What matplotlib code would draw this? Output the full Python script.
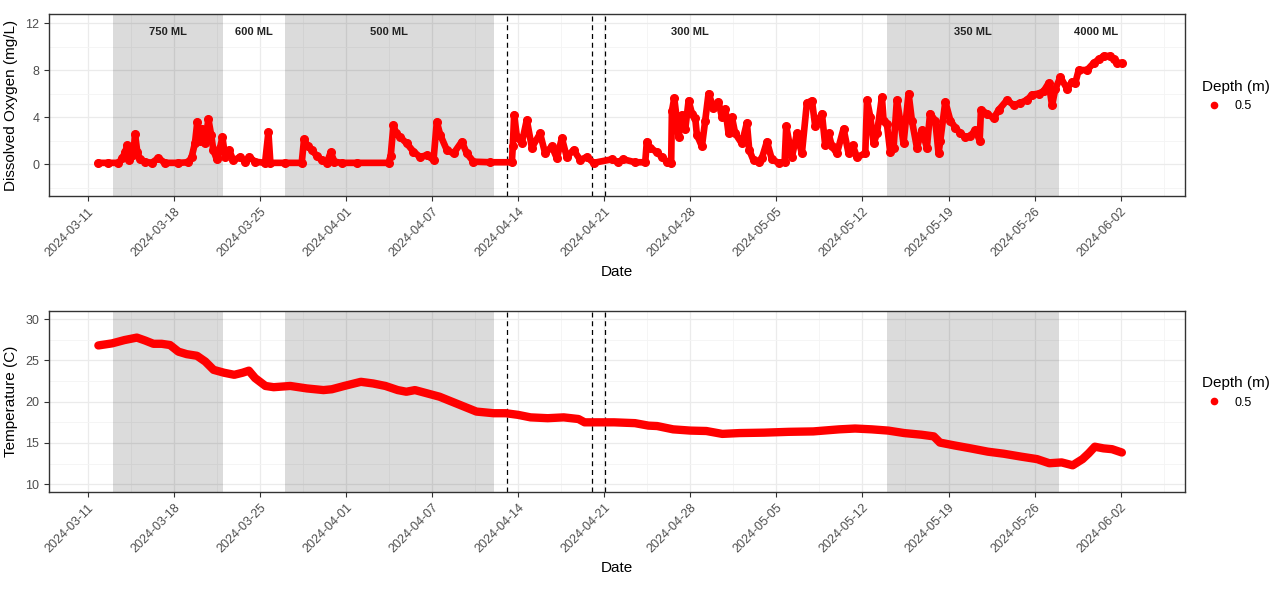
import matplotlib
matplotlib.use('Agg')
import matplotlib.pyplot as plt
import matplotlib.dates as mdates
from matplotlib.ticker import FixedLocator
import pandas as pd

plt.rcParams['font.family'] = ['Liberation Sans', 'DejaVu Sans']

START = pd.Timestamp('2024-03-11')

# Step 1 : values (days after START)
do_days = [0.85, 1.66, 2.48, 2.8, 3.02, 3.21, 3.37, 3.7, 3.83, 4.02, 4.24, 4.65, 5.19, 5.73,
           6.27, 7.36, 8.17, 8.44, 8.71, 8.9, 9.12, 9.31, 9.53, 9.8, 10.02, 10.2, 10.48,
           10.75, 10.94, 11.16, 11.48, 11.83, 12.38, 12.78, 13.11, 13.6, 14.41, 14.68, 14.84,
           16.04, 17.39, 17.58, 17.88, 18.21, 18.61, 19.02, 19.43, 19.75, 20.05, 20.65,
           21.87, 24.45, 24.63, 24.85, 25.07, 25.39, 25.94, 26.48, 27.02, 27.56, 28.11,
           28.38, 28.65, 29.19, 29.74, 30.41, 30.82, 31.36, 32.72, 34.48, 34.56, 34.67,
           34.89, 35.29, 35.7, 36.11, 36.78, 37.19, 37.73, 38.14, 38.55, 38.95, 39.5, 40.04,
           40.58, 41.13, 42.62, 43.1, 43.56, 44.5, 45.33, 45.46, 45.73, 46.28, 46.68, 47.09,
           47.44, 47.5, 47.69, 47.9, 48.04, 48.31, 48.59, 48.86, 49.13, 49.4, 49.53, 49.94,
           50.21, 50.48, 50.88, 51.29, 51.57, 51.84, 52.11, 52.38, 52.65, 53.19, 53.6, 53.79,
           54.14, 54.55, 54.82, 55.23, 55.63, 56.18, 56.67, 56.8, 57.26, 57.67, 58.07, 58.48,
           58.89, 59.16, 59.7, 59.97, 60.24, 60.52, 60.92, 61.46, 61.87, 62.2, 62.55, 63.23,
           63.37, 63.64, 63.91, 64.18, 64.58, 64.72, 64.99, 65.26, 65.53, 65.8, 66.07, 66.34,
           66.75, 67.02, 67.43, 67.83, 68.24, 68.5, 68.92, 69.19, 69.33, 69.74, 70.15, 70.55,
           70.96, 71.37, 71.78, 72.18, 72.53, 72.64, 73.13, 73.67, 74.08, 74.76, 75.3, 75.84,
           76.38, 76.79, 77.33, 77.74, 78.15, 78.42, 78.69, 79.1, 79.64, 80.04, 80.31, 80.59,
           81.27, 81.81, 82.21, 82.62, 83.16, 83.43, 83.7, 84.11]
do_vals = [0.1, 0.1, 0.1, 0.5, 1.0, 1.6, 0.3, 0.8, 2.55, 1.0, 0.4, 0.2, 0.1, 0.5,
           0.1, 0.1, 0.15, 0.6, 1.8, 3.6, 2.0, 3.0, 1.8, 3.8, 2.5, 1.2, 0.4,
           1.4, 2.3, 0.6, 1.2, 0.3, 0.6, 0.2, 0.6, 0.2, 0.1, 2.7, 0.1,
           0.1, 0.1, 2.1, 1.5, 1.2, 0.7, 0.3, 0.1, 1.0, 0.2, 0.1,
           0.1, 0.1, 0.7, 3.3, 2.6, 2.3, 1.75, 1.05, 0.6, 0.75, 0.35,
           3.6, 2.5, 1.2, 0.9, 1.9, 0.9, 0.2, 0.15, 0.15, 1.5, 4.2,
           2.3, 1.8, 3.75, 1.4, 2.6, 0.9, 1.5, 0.5, 2.2, 0.6, 1.2, 0.35,
           0.6, 0.1, 0.4, 0.15, 0.4, 0.15, 0.15, 1.9, 1.4, 1.0, 0.6, 0.2,
           0.1, 4.5, 5.6, 3.8, 2.3, 4.2, 3.0, 5.4, 4.3, 3.9, 2.5, 1.5,
           3.7, 6.0, 4.8, 5.3, 4.0, 4.7, 2.6, 4.0, 2.6, 1.75, 3.5, 1.2,
           0.3, 0.2, 0.5, 1.9, 0.4, 0.1, 0.2, 3.2, 0.6, 2.6, 0.9, 5.2,
           5.4, 3.2, 4.3, 1.6, 2.6, 1.5, 0.9, 3.0, 0.9, 1.6, 0.6, 0.9,
           5.45, 4.0, 1.75, 2.6, 5.7, 3.7, 3.4, 1.0, 1.4, 5.45, 3.7, 1.75,
           6.0, 3.7, 1.4, 2.9, 1.4, 4.3, 3.7, 0.9, 2.0, 5.3, 3.7, 3.1,
           2.6, 2.3, 2.4, 2.9, 2.0, 4.6, 4.3, 3.9, 4.6, 5.45, 5.0, 5.2,
           5.45, 5.9, 6.0, 6.2, 6.9, 5.0, 6.4, 7.4, 6.4, 7.0, 6.9, 8.0,
           8.0, 8.6, 8.9, 9.2, 9.2, 8.9, 8.6, 8.6]

temp_days = [0.85, 1.96, 2.97, 3.98, 4.65, 5.33, 6.0, 6.68, 7.36, 8.03, 8.87, 9.55, 10.22,
             11.07, 11.9, 12.58, 13.09, 13.6, 14.44, 15.11, 16.46, 17.81, 19.16, 19.84,
             20.85, 22.2, 23.2, 24.2, 25.2, 25.9, 26.6, 27.6, 28.6, 29.6, 30.6, 31.6, 33.0,
             34.0, 35.0, 36.0, 37.4, 38.7, 39.9, 40.4, 41.4, 42.8, 44.5, 45.6, 46.3, 47.6,
             49.0, 50.3, 51.6, 53.0, 55.0, 57.0, 59.0, 61.1, 62.4, 63.75, 65.1, 66.4, 67.8,
             68.8, 69.3, 70.5, 71.8, 73.2, 74.5, 75.9, 77.2, 78.2, 79.2, 80.1, 80.9, 81.4,
             81.9, 82.6, 83.3, 84.1]
temp_vals = [26.8, 27.05, 27.45, 27.75, 27.4, 27.0, 27.0, 26.85, 26.05, 25.75, 25.55, 24.85,
             23.85, 23.5, 23.25, 23.5, 23.75, 22.85, 21.9, 21.75, 21.9, 21.6, 21.4, 21.5,
             21.9, 22.4, 22.2, 21.9, 21.4, 21.2, 21.4, 21.0, 20.6, 20.0, 19.4, 18.8, 18.6,
             18.6, 18.4, 18.1, 18.0, 18.1, 17.9, 17.5, 17.5, 17.5, 17.4, 17.1, 17.05, 16.65,
             16.5, 16.45, 16.1, 16.2, 16.25, 16.35, 16.4, 16.65, 16.75, 16.65, 16.5, 16.2, 16.0,
             15.8, 15.05, 14.7, 14.35, 13.95, 13.7, 13.35, 13.05, 12.55, 12.65, 12.3, 13.05,
             13.75, 14.55, 14.35, 14.25, 13.85]

# treatment periods (days after START) and their labels
period_edges = [2, 11, 16, 33, 65, 79, 85]
period_labels = ['750 ML', '600 ML', '500 ML', '300 ML', '350 ML', '4000 ML']
shaded = [0, 2, 4]  # which periods get the grey band
event_days = [34.07, 41.04, 42.08]

tick_labels = ['2024-03-11', '2024-03-18', '2024-03-25', '2024-04-01', '2024-04-07',
               '2024-04-14', '2024-04-21', '2024-04-28', '2024-05-05', '2024-05-12',
               '2024-05-19', '2024-05-26', '2024-06-02']


def to_date(days):
    return START + pd.to_timedelta(pd.Series(days, dtype=float), unit='D')


do_t = to_date(do_days)
temp_t = to_date(temp_days)
edges = to_date(period_edges)
events = to_date(event_days)
ticks = pd.date_range(START, periods=len(tick_labels), freq='7D')
minor_ticks = ticks - pd.Timedelta(hours=84)
minor_ticks = minor_ticks.append(pd.DatetimeIndex([ticks[-1] + pd.Timedelta(hours=84)]))

fig = plt.figure(figsize=(12.88, 5.91), dpi=100)
ax1 = fig.add_axes([0.038, 0.6684, 0.8817, 0.3079])
ax2 = fig.add_axes([0.038, 0.1675, 0.8817, 0.3063])


def style(ax, ylabel, yticks, yminor, ylim):
    ax.set_xlim(START - pd.Timedelta(days=3.17), START + pd.Timedelta(days=89.2))
    ax.set_ylim(*ylim)
    ax.set_xticks(ticks)
    ax.set_xticklabels(tick_labels, rotation=45, ha='right', rotation_mode='anchor',
                       fontsize=9, color='#4D4D4D')
    ax.xaxis.set_minor_locator(FixedLocator(mdates.date2num(minor_ticks)))
    ax.set_yticks(yticks)
    ax.yaxis.set_minor_locator(FixedLocator(yminor))
    ax.tick_params(axis='y', labelsize=9, labelcolor='#4D4D4D')
    ax.tick_params(which='major', length=3.5, color='#333333', width=0.8)
    ax.tick_params(which='minor', length=0)
    ax.grid(which='major', color='#EBEBEB', linewidth=0.9, zorder=0)
    ax.grid(which='minor', color='#F4F4F4', linewidth=0.6, zorder=0)
    ax.set_axisbelow(True)
    for s in ax.spines.values():
        s.set_color('#333333')
        s.set_linewidth(1.0)
    ax.set_xlabel('Date', fontsize=11, labelpad=4)
    ax.set_ylabel(ylabel, fontsize=11, labelpad=5)
    for i in shaded:
        ax.axvspan(edges[i], edges[i + 1], color='black', alpha=0.14, lw=0, zorder=1)
    for e in events:
        ax.axvline(e, color='black', linestyle=(0, (4, 3)), linewidth=0.9, zorder=2)


style(ax1, 'Dissolved Oxygen (mg/L)', [0, 4, 8, 12], [-2, 2, 6, 10], (-2.72, 12.77))
style(ax2, 'Temperature (C)', [10, 15, 20, 25, 30], [12.5, 17.5, 22.5, 27.5], (9.07, 30.97))

ax1.plot(do_t, do_vals, color='red', lw=4.8, marker='o', ms=5.5,
         solid_joinstyle='round', solid_capstyle='round', zorder=3)
ax2.plot(temp_t, temp_vals, color='red', lw=6, solid_capstyle='round',
         solid_joinstyle='round', zorder=3)

for i, lab in enumerate(period_labels):
    mid = edges[i] + (edges[i + 1] - edges[i]) / 2
    ax1.text(mid, 11.2, lab, ha='center', va='center', fontsize=8, color='#222222',
             family=['Liberation Sans Narrow', 'Liberation Sans', 'DejaVu Sans'],
             fontweight='bold')

for ax in (ax1, ax2):
    leg = ax.legend([plt.Line2D([], [], color='red', ls='', marker='o', ms=4.5)], ['0.5'],
                    title='Depth (m)', loc='center left', bbox_to_anchor=(1.005, 0.55),
                    frameon=False, fontsize=9, title_fontsize=11, handletextpad=0.6)
    leg._legend_box.align = 'left'

fig.savefig('out.png', dpi=100)
